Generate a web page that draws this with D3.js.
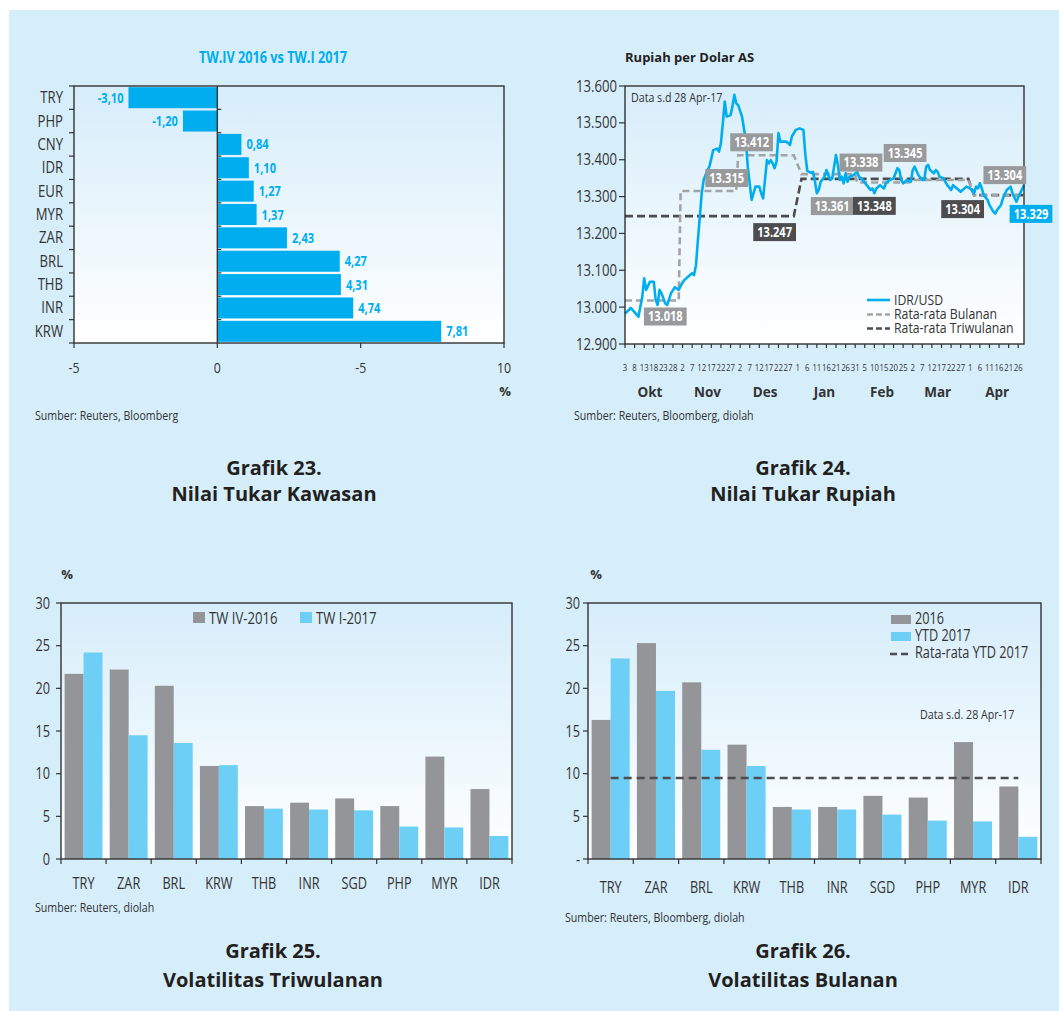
<!DOCTYPE html>
<html><head><meta charset="utf-8">
<script src="https://cdn.jsdelivr.net/npm/d3@7"></script>
<style>html,body{margin:0;padding:0;background:#fff;}svg{display:block;}</style>
</head><body>
<svg id="c" width="1059" height="1011"></svg>
<script>
// ---------------- DATA ----------------
// Grafik 23
const fxCats = ["TRY","PHP","CNY","IDR","EUR","MYR","ZAR","BRL","THB","INR","KRW"];
const fxChange = [-3.10,-1.20,0.84,1.10,1.27,1.37,2.43,4.27,4.31,4.74,7.81];
const fxTicks = [-5,0,5,10];
const fxTickLabels = ["-5","0","-5","10"];

// Grafik 24
const idrDates = [
"2016-10-03","2016-10-05","2016-10-06","2016-10-10","2016-10-12","2016-10-13","2016-10-14","2016-10-16","2016-10-18","2016-10-19","2016-10-20","2016-10-21","2016-10-22","2016-10-24","2016-10-25","2016-10-27","2016-10-29","2016-10-31",
"2016-11-02","2016-11-03","2016-11-05","2016-11-07","2016-11-08","2016-11-09","2016-11-10","2016-11-11","2016-11-12","2016-11-13","2016-11-15","2016-11-16","2016-11-18","2016-11-20","2016-11-21","2016-11-22","2016-11-23","2016-11-24","2016-11-25","2016-11-27","2016-11-28","2016-11-29","2016-11-30",
"2016-12-01","2016-12-03","2016-12-05","2016-12-06","2016-12-08","2016-12-10","2016-12-12","2016-12-13","2016-12-14","2016-12-16","2016-12-17","2016-12-18","2016-12-19","2016-12-20","2016-12-21","2016-12-22","2016-12-23","2016-12-26","2016-12-27","2016-12-28","2016-12-29","2016-12-31",
"2017-01-02","2017-01-04","2017-01-05","2017-01-06","2017-01-08","2017-01-09","2017-01-10","2017-01-11","2017-01-12","2017-01-13","2017-01-15","2017-01-16","2017-01-18","2017-01-19","2017-01-20","2017-01-21","2017-01-22","2017-01-23","2017-01-24","2017-01-25","2017-01-26","2017-01-27","2017-01-28","2017-01-30",
"2017-02-01","2017-02-02","2017-02-04","2017-02-06","2017-02-08","2017-02-09","2017-02-10","2017-02-11","2017-02-13","2017-02-15","2017-02-16","2017-02-18","2017-02-20","2017-02-22","2017-02-23","2017-02-24","2017-02-25","2017-02-27",
"2017-03-01","2017-03-02","2017-03-03","2017-03-05","2017-03-07","2017-03-08","2017-03-09","2017-03-10","2017-03-11","2017-03-13","2017-03-14","2017-03-15","2017-03-16","2017-03-18","2017-03-20","2017-03-22","2017-03-23","2017-03-25","2017-03-27","2017-03-28","2017-03-30",
"2017-04-01","2017-04-03","2017-04-04","2017-04-05","2017-04-06","2017-04-07","2017-04-08","2017-04-10","2017-04-11","2017-04-13","2017-04-14","2017-04-15","2017-04-17","2017-04-18","2017-04-20","2017-04-22","2017-04-23","2017-04-25","2017-04-27","2017-04-29"];
const idrValues = [
12983,12992,12998,12974,13028,13078,13047,13069,13069,13019,13006,13047,13038,13010,13006,13038,13054,13047,
13067,13074,13083,13092,13087,13114,13182,13245,13309,13345,13372,13381,13426,13430,13422,13445,13499,13558,13517,13521,13544,13576,13553,
13548,13517,13453,13381,13291,13327,13327,13309,13295,13399,13390,13399,13390,13377,13395,13472,13449,13449,13445,13440,13463,13481,
13485,13481,13415,13370,13364,13367,13342,13309,13318,13340,13354,13372,13345,13349,13381,13413,13385,13345,13354,13336,13363,13340,13354,13358,
13367,13354,13345,13331,13318,13322,13309,13322,13331,13322,13336,13345,13349,13377,13372,13345,13336,13345,
13340,13372,13381,13358,13345,13345,13381,13386,13372,13363,13372,13367,13354,13349,13331,13318,13331,13322,13313,13318,13327,
13322,13309,13327,13322,13336,13322,13304,13291,13277,13259,13254,13264,13277,13295,13318,13327,13309,13286,13309,13331];
const idrMonthlyStart = ["2016-10-03","2016-11-01","2016-12-01","2017-01-03","2017-02-01","2017-03-01","2017-04-03"];
const idrMonthlyEnd   = ["2016-10-31","2016-11-30","2016-12-30","2017-01-31","2017-02-28","2017-03-31","2017-04-29"];
const idrMonthlyAvg   = [13018,13315,13412,13361,13338,13345,13304];
const idrQuarterStart = ["2016-10-03","2017-01-03","2017-04-03"];
const idrQuarterEnd   = ["2016-12-30","2017-03-31","2017-04-29"];
const idrQuarterAvg   = [13247,13348,13304];
const idrLastValue = 13329;
const idrYTicks = [12900,13000,13100,13200,13300,13400,13500,13600];
const idrMonthNames = ["Okt","Nov","Des","Jan","Feb","Mar","Apr"];
const idrMonthMid = ["2016-10-16","2016-11-15","2016-12-15","2017-01-15","2017-02-14","2017-03-15","2017-04-15"];

// Grafik 25 & 26
const volCats = ["TRY","ZAR","BRL","KRW","THB","INR","SGD","PHP","MYR","IDR"];
const volQ4_2016 = [21.7,22.2,20.3,10.9,6.2,6.6,7.1,6.2,12.0,8.2];
const volQ1_2017 = [24.2,14.5,13.6,11.0,5.9,5.8,5.7,3.8,3.7,2.7];
const volM2016 = [16.3,25.3,20.7,13.4,6.1,6.1,7.4,7.2,13.7,8.5];
const volMYtd2017 = [23.5,19.7,12.8,10.9,5.8,5.8,5.2,4.5,4.4,2.6];
const volAvgYtd2017 = 9.5;
const volTicks = [0,5,10,15,20,25,30];
const vol25TickLabels = ["0","5","10","15","20","25","30"];
const vol26TickLabels = ["-","5","10","15","20","25","30"];

// ---------------- STYLE ----------------
const W = 1059, H = 1011;
const NARROW = "'Open Sans','Noto Sans',sans-serif";   // rendered horizontally condensed
const SX = 0.82;
const SANS = "'Open Sans','Noto Sans',sans-serif";
const TXT = "#333333";
const CYAN = "#00aeef";
const LCYAN = "#6dcff6";
const GREY = "#939598";
const loc = d3.formatLocale({decimal:",", thousands:".", grouping:[3], currency:["",""], minus:"-"});
const fmt2 = loc.format(".2f");
const fmtK = loc.format(",");
const parse = d3.timeParse("%Y-%m-%d");

const svg = d3.select("#c");
svg.append("rect").attr("width",W).attr("height",H).attr("fill","#fff");
svg.append("rect").attr("x",9).attr("y",10).attr("width",W-9).attr("height",H-10).attr("fill","#d6edfa");
const defs = svg.append("defs");
const gr = defs.append("linearGradient").attr("id","plotbg").attr("x1",0).attr("y1",0).attr("x2",0).attr("y2",1);
gr.append("stop").attr("offset","0%").attr("stop-color","#d6edfa");
gr.append("stop").attr("offset","100%").attr("stop-color","#ffffff");

// text helper: condensed texts are drawn with a horizontal scale
function txt(g, x, y, s, o) {
  o = o || {};
  const wide = !!o.wide;
  const t = g.append("text").text(s)
    .attr("font-family", wide ? SANS : NARROW)
    .attr("font-size", o.size || 15)
    .attr("font-weight", o.weight || 400)
    .attr("fill", o.fill || TXT)
    .attr("text-anchor", o.anchor || "start");
  if (wide) t.attr("x",x).attr("y",y);
  else t.attr("transform",`translate(${x},${y}) scale(${SX},1)`);
  return t;
}
function plotBg(g, L, T, R, B) {
  g.append("rect").attr("x",L).attr("y",T).attr("width",R-L).attr("height",B-T).attr("fill","url(#plotbg)");
}
function frame(g, L, T, R, B) {
  g.append("rect").attr("x",L).attr("y",T).attr("width",R-L).attr("height",B-T)
    .attr("fill","none").attr("stroke","#333").attr("stroke-width",1.4);
}
function tick(g, x1, y1, x2, y2) {
  g.append("line").attr("x1",x1).attr("y1",y1).attr("x2",x2).attr("y2",y2).attr("stroke","#333").attr("stroke-width",1.2);
}
function caption(x, y1, y2, a, b) {
  txt(svg, x, y1, a, {wide:true, size:20, weight:700, fill:"#231f20", anchor:"middle"});
  txt(svg, x, y2, b, {wide:true, size:20, weight:700, fill:"#231f20", anchor:"middle"});
}

// ---------------- GRAFIK 23 ----------------
(function(){
  const L=74, R=504, T=86, B=343;
  const g = svg.append("g");
  plotBg(g, L, T, R, B);
  const x = d3.scaleLinear().domain([-5,10]).range([L,R]);
  const y = d3.scaleBand().domain(fxCats).range([T,B]).paddingInner(0.1).paddingOuter(0.05);
  const step = y.step();
  const data = fxCats.map((c,i)=>({c, v:fxChange[i]}));
  g.selectAll("rect.bar").data(data).join("rect").attr("class","bar")
    .attr("x", d=>x(Math.min(0,d.v))).attr("width", d=>Math.abs(x(d.v)-x(0)))
    .attr("y", d=>y(d.c)).attr("height", y.bandwidth()).attr("fill", CYAN);
  frame(g, L, T, R, B);
  g.append("line").attr("x1",x(0)).attr("x2",x(0)).attr("y1",T).attr("y2",B).attr("stroke","#333").attr("stroke-width",1.4);
  d3.range(fxCats.length+1).forEach(k=>{
    const yy = y(fxCats[0]) - step*0.05 + k*step;
    tick(g, L-5, yy, L, yy);
    if (k>0 && k<fxCats.length) tick(g, x(0), yy, x(0)+4, yy);
  });
  fxTicks.forEach((t,i)=>{
    tick(g, x(t), B, x(t), B+5);
    txt(g, x(t), B+30, fxTickLabels[i], {size:15, anchor:"middle"});
  });
  data.forEach(d=>{
    const cy = y(d.c)+y.bandwidth()/2;
    txt(g, 63, cy+5.5, d.c, {size:16, anchor:"end"});
    const pos = d.v>=0;
    txt(g, x(d.v)+(pos?5:-5), cy+5, fmt2(d.v), {size:13.5, weight:700, fill:CYAN, anchor:pos?"start":"end"});
  });
  txt(g, 273, 62.5, "TW.IV 2016 vs TW.I 2017", {size:15.5, weight:700, fill:CYAN, anchor:"middle"});
  txt(g, 505, 396, "%", {wide:true, size:13, weight:700, anchor:"middle"});
  txt(g, 35, 420, "Sumber: Reuters, Bloomberg", {size:13});
  caption(274, 475, 501, "Grafik 23.", "Nilai Tukar Kawasan");
})();

// ---------------- GRAFIK 24 ----------------
(function(){
  const L=625, R=1024, T=86, B=344;
  const g = svg.append("g");
  plotBg(g, L, T, R, B);
  const x = d3.scaleTime().domain([parse("2016-10-03"), parse("2017-04-29")]).range([L,R]);
  const y = d3.scaleLinear().domain([12900,13600]).range([B,T]);
  const line = d3.line().x(d=>x(d[0])).y(d=>y(d[1]));
  function stepPts(starts, ends, vals){
    const p=[]; vals.forEach((v,i)=>{ p.push([parse(starts[i]),v]); p.push([parse(ends[i]),v]); }); return p;
  }
  g.append("path").attr("d", line(stepPts(idrQuarterStart, idrQuarterEnd, idrQuarterAvg)))
    .attr("fill","none").attr("stroke","#4d4d4f").attr("stroke-width",2.6).attr("stroke-dasharray","8,4");
  g.append("path").attr("d", line(stepPts(idrMonthlyStart, idrMonthlyEnd, idrMonthlyAvg)))
    .attr("fill","none").attr("stroke","#a3a4a6").attr("stroke-width",2.6).attr("stroke-dasharray","7,4");
  const pts = idrDates.map((d,i)=>[parse(d), idrValues[i]]);
  g.append("path").attr("d", line(pts)).attr("fill","none").attr("stroke",CYAN).attr("stroke-width",2.6).attr("stroke-linejoin","round");
  frame(g, L, T, R, B);

  idrYTicks.forEach(v=>{
    tick(g, L-6, y(v), L, y(v));
    txt(g, L-8, y(v)+5.5, fmtK(v), {size:16, anchor:"end"});
  });
  const dayFmt = d3.timeFormat("%-d");
  d3.timeDay.range(parse("2016-10-03"), parse("2017-04-28"), 5).forEach(d=>{
    tick(g, x(d), B, x(d), B+4);
    txt(g, x(d), 370.5, dayFmt(d), {size:9.5, anchor:"middle"});
  });
  idrMonthNames.forEach((m,i)=>txt(g, x(parse(idrMonthMid[i])), 396.5, m, {wide:true, size:13.5, weight:700, anchor:"middle"}));

  txt(g, 631, 101.5, "Data s.d 28 Apr-17", {size:13});
  txt(g, 625, 61.5, "Rupiah per Dolar AS", {wide:true, size:13, weight:700, fill:"#231f20"});
  txt(g, 574, 420, "Sumber: Reuters, Bloomberg, diolah", {size:13});

  // legend
  const lx1=867, lx2=890, tx=894;
  g.append("line").attr("x1",lx1).attr("x2",lx2).attr("y1",300).attr("y2",300).attr("stroke",CYAN).attr("stroke-width",2.6);
  txt(g, tx, 304.5, "IDR/USD", {size:15});
  g.append("line").attr("x1",lx1).attr("x2",lx2).attr("y1",314.5).attr("y2",314.5).attr("stroke","#a3a4a6").attr("stroke-width",2.6).attr("stroke-dasharray","6,3");
  txt(g, tx, 319, "Rata-rata Bulanan", {size:15});
  g.append("line").attr("x1",lx1).attr("x2",lx2).attr("y1",328.5).attr("y2",328.5).attr("stroke","#4d4d4f").attr("stroke-width",2.6).attr("stroke-dasharray","6,3");
  txt(g, tx, 333, "Rata-rata Triwulanan", {size:15});

  // value boxes (anchored on a date, offset from the line they describe)
  const monthlyLabelAt = ["2016-10-24","2016-11-25","2016-12-08","2017-01-19","2017-02-03","2017-02-26","2017-04-19"];
  const monthlyLabelDy = [16,-13,-13,32,-20,-27,-20];
  const quarterLabelAt = ["2016-12-20","2017-02-10","2017-03-28"];
  const quarterLabelDy = [16,27,14];
  function box(cx, cy, s, fill){
    const t = txt(g, cx, cy+4.8, s, {size:13.5, weight:700, fill:"#fff", anchor:"middle"});
    const w = t.node().getComputedTextLength()*SX+8;
    g.insert("rect", function(){return t.node();}).attr("x",cx-w/2).attr("y",cy-9).attr("width",w).attr("height",18).attr("fill",fill);
  }
  idrMonthlyAvg.forEach((v,i)=>box(x(parse(monthlyLabelAt[i])), y(v)+monthlyLabelDy[i], fmtK(v), "#999a9c"));
  idrQuarterAvg.forEach((v,i)=>box(x(parse(quarterLabelAt[i])), y(v)+quarterLabelDy[i], fmtK(v), "#4d4d4f"));
  box(x(parse(idrDates[idrDates.length-1]))+7, y(idrLastValue)+28, fmtK(idrLastValue), CYAN);

  caption(803, 475, 501, "Grafik 24.", "Nilai Tukar Rupiah");
})();

// ---------------- GRAFIK 25 / 26 ----------------
function volChart(o){
  const {L,R,T,B} = o;
  const g = svg.append("g");
  plotBg(g, L, T, R, B);
  const x = d3.scaleBand().domain(volCats).range([L,R]).padding(0);
  const xi = d3.scaleBand().domain([0,1]).range([x.bandwidth()*0.08, x.bandwidth()*0.92]).padding(0);
  const y = d3.scaleLinear().domain([0,30]).range([B,T]);
  [o.s1, o.s2].forEach((s,si)=>{
    g.selectAll("rect.s"+si).data(volCats).join("rect").attr("class","s"+si)
      .attr("x", c=>x(c)+xi(si)).attr("width", xi.bandwidth())
      .attr("y", (c,i)=>y(s[i])).attr("height", (c,i)=>B-y(s[i]))
      .attr("fill", si===0?GREY:LCYAN);
  });
  if (o.avg!=null){
    g.append("line").attr("x1",x(volCats[0])+x.bandwidth()/2).attr("x2",x(volCats[volCats.length-1])+x.bandwidth()/2)
      .attr("y1",y(o.avg)).attr("y2",y(o.avg)).attr("stroke","#4d4d4f").attr("stroke-width",2.6).attr("stroke-dasharray","8,5");
  }
  frame(g, L, T, R, B);
  volTicks.forEach((t,i)=>{
    tick(g, L-5, y(t), L, y(t));
    txt(g, L-o.lblGap, y(t)+5.5, o.tickLabels[i], {size:15.5, anchor:"end"});
  });
  d3.range(volCats.length+1).forEach(k=>{
    const xx = L + k*x.step();
    tick(g, xx, B, xx, B+5);
  });
  volCats.forEach(c=>txt(g, x(c)+x.bandwidth()/2, o.catY, c, {size:15.5, anchor:"middle"}));
  txt(g, o.pctX, 579, "%", {wide:true, size:13, weight:700, anchor:"middle"});
  return {g,x,y};
}

(function(){
  const {g} = volChart({L:61,R:512,T:603,B:859,s1:volQ4_2016,s2:volQ1_2017,tickLabels:vol25TickLabels,lblGap:11,catY:888.5,pctX:67});
  g.append("rect").attr("x",193).attr("y",612).attr("width",12).attr("height",11).attr("fill",GREY);
  txt(g, 209, 624, "TW IV-2016", {size:16});
  g.append("rect").attr("x",300).attr("y",612).attr("width",12).attr("height",11).attr("fill",LCYAN);
  txt(g, 316, 624, "TW I-2017", {size:16});
  txt(g, 35, 912, "Sumber: Reuters, diolah", {size:13});
  caption(273, 958, 987, "Grafik 25.", "Volatilitas Triwulanan");
})();

(function(){
  const {g} = volChart({L:588,R:1041,T:603,B:859,s1:volM2016,s2:volMYtd2017,avg:volAvgYtd2017,tickLabels:vol26TickLabels,lblGap:8,catY:892.5,pctX:596});
  g.append("rect").attr("x",891).attr("y",615).attr("width",20).attr("height",9).attr("fill",GREY);
  txt(g, 915, 624, "2016", {size:15.5});
  g.append("rect").attr("x",891).attr("y",632).attr("width",20).attr("height",9).attr("fill",LCYAN);
  txt(g, 915, 641, "YTD 2017", {size:15.5});
  g.append("line").attr("x1",890).attr("x2",910).attr("y1",654).attr("y2",654).attr("stroke","#4d4d4f").attr("stroke-width",2.6).attr("stroke-dasharray","7,4");
  txt(g, 915, 658, "Rata-rata YTD 2017", {size:15.5});
  txt(g, 920, 719, "Data s.d. 28 Apr-17", {size:13});
  txt(g, 565, 922, "Sumber: Reuters, Bloomberg, diolah", {size:13});
  caption(803, 958, 987, "Grafik 26.", "Volatilitas Bulanan");
})();
</script>
</body></html>
